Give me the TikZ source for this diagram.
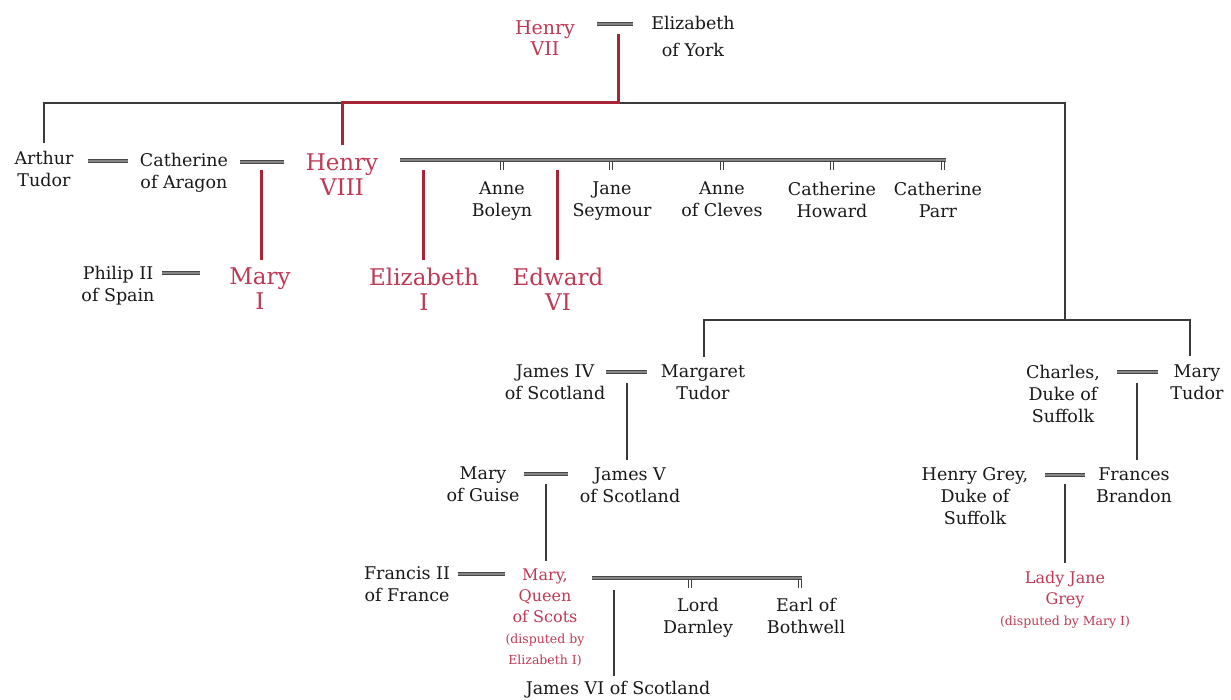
\documentclass[tikz,border=0pt]{standalone}
\usepackage{fontspec}
\setmainfont{DejaVu Serif}
\definecolor{tred}{RGB}{190,58,84}
\definecolor{lred}{RGB}{168,36,54}
\definecolor{lgray}{RGB}{58,58,58}
\begin{document}
\begin{tikzpicture}[x=1pt,y=-1pt,
  person/.style={anchor=north, inner sep=0pt, outer sep=0pt, align=center,
    text=black!90, font=\fontsize{17.5}{22}\selectfont},
  royal/.style={person, text=tred, font=\fontsize{23}{25}\selectfont},
  blk/.style={draw=lgray, line width=1.8pt},
  redl/.style={draw=lred, line width=3pt},
  marr/.style={draw=black!72, double=black!48, line width=1.8pt, double distance=1.1pt},
  tickm/.style={draw=black!75, line width=1.1pt},
  desc/.style={shorten >=8pt}]
\useasboundingbox (0,0) rectangle (1231,700);
\fill[white] (0,0) rectangle (1231,700);

% ---- generation 1
\node[royal, font=\fontsize{19}{21}\selectfont] (hvii) at (545,21) {Henry\\VII};
\node[person, font=\fontsize{17.5}{27}\selectfont] (eoy) at (693,16) {Elizabeth\\of York};

% ---- generation 2
\node[person] (arthur) at (44,151) {Arthur\\Tudor};
\node[person] (cath) at (184,153) {Catherine\\of Aragon};
\node[royal] (h8) at (342,154) {Henry\\VIII};
\node[person] (boleyn) at (502,182) {Anne\\Boleyn};
\node[person] (seymour) at (612,182) {Jane\\Seymour};
\node[person] (cleves) at (722,182) {Anne\\of Cleves};
\node[person] (howard) at (832,182) {Catherine\\Howard};
\node[person] (parr) at (938,182) {Catherine\\Parr};

% ---- generation 3 (Henry VIII's children)
\node[person] (philip) at (118,266) {Philip II\\of Spain};
\node[royal] (mary1) at (260,268) {Mary\\I};
\node[royal] (eliz1) at (424,268) {Elizabeth\\I};
\node[royal] (edw6) at (558,268) {Edward\\VI};

% ---- Scottish line
\node[person] (james4) at (555,365) {James IV\\of Scotland};
\node[person] (margaret) at (703,365) {Margaret\\Tudor};
\node[person] (guise) at (483,467) {Mary\\of Guise};
\node[person] (james5) at (630,468) {James V\\of Scotland};
\node[person] (francis) at (407,567) {Francis II\\of France};
\node[royal, font=\fontsize{16}{21}\selectfont] (mqs) at (545,569)
  {Mary,\\Queen\\of Scots\\\fontsize{12.5}{21}\selectfont(disputed by\\\fontsize{12.5}{21}\selectfont Elizabeth I)};
\node[person] (darnley) at (698,598) {Lord\\Darnley};
\node[person] (bothwell) at (806,598) {Earl of\\Bothwell};
\node[person] (james6) at (618,681) {James VI of Scotland};

% ---- Suffolk line
\node[person] (charles) at (1063,365) {Charles,\\Duke of\\Suffolk};
\node[person] (marytudor) at (1197,365) {Mary\\Tudor};
\node[person] (hgrey) at (975,468) {Henry Grey,\\Duke of\\Suffolk};
\node[person] (frances) at (1134,468) {Frances\\Brandon};
\node[royal, font=\fontsize{16}{21}\selectfont] (ljg) at (1065,571)
  {Lady Jane\\Grey\\\fontsize{12.5}{21}\selectfont(disputed by Mary I)};

% ---- junction coordinates
\coordinate (top) at (618,103);
\coordinate (left) at (44,103);
\coordinate (right) at (1065,103);
\coordinate (rj) at (1065,320);
\coordinate (rl) at (704,320);
\coordinate (rr) at (1190,320);

% ---- main black lines
\draw[blk] (left |- arthur.north) ++(0,-8) -- (left) -- (right) -- (rj);
\draw[blk] (rl |- margaret.north) ++(0,-8) -- (rl) -- (rr) -- ++(0,36);
% ---- red line of descent
\draw[redl] (618,34) -- (top) -| ([yshift=9pt]h8.north);

% ---- marriages
\draw[marr] (597,24) -- (633,24);
\draw[marr] (88,161) -- (128,161);
\draw[marr] (240,162) -- (284,162);
\draw[marr] (400,160) -- (946,160);
\foreach \x in {502,611,722,832,943}
  \draw[tickm] (\x-1.4,162) -- (\x-1.4,170) (\x+1.4,162) -- (\x+1.4,170);
\draw[marr] (162,273) -- (200,273);
\draw[marr] (606,372) -- (647,372);
\draw[marr] (524,474) -- (568,474);
\draw[marr] (458,574) -- (505,574);
\draw[marr] (592,578) -- (802,578);
\foreach \x in {690,800}
  \draw[tickm] (\x-1.4,580) -- (\x-1.4,588) (\x+1.4,580) -- (\x+1.4,588);
\draw[marr] (1117,372) -- (1158,372);
\draw[marr] (1045,475) -- (1085,475);

% ---- children
\coordinate (c1) at (261,170);
\draw[redl, desc] (c1) -- (c1 |- mary1.north);
\coordinate (c2) at (423,170);
\draw[redl, desc] (c2) -- (c2 |- eliz1.north);
\coordinate (c3) at (557,170);
\draw[redl, desc] (c3) -- (c3 |- edw6.north);
\coordinate (c4) at (627,383);
\draw[blk, desc] (c4) -- (c4 |- james5.north);
\coordinate (c5) at (546,484);
\draw[blk, desc] (c5) -- (c5 |- mqs.north);
\coordinate (c6) at (614,590);
\draw[blk, shorten >=5pt] (c6) -- (c6 |- james6.north);
\coordinate (c7) at (1137,383);
\draw[blk, desc] (c7) -- (c7 |- frances.north);
\coordinate (c8) at (1065,484);
\draw[blk, desc] (c8) -- (c8 |- ljg.north);
\end{tikzpicture}
\end{document}
